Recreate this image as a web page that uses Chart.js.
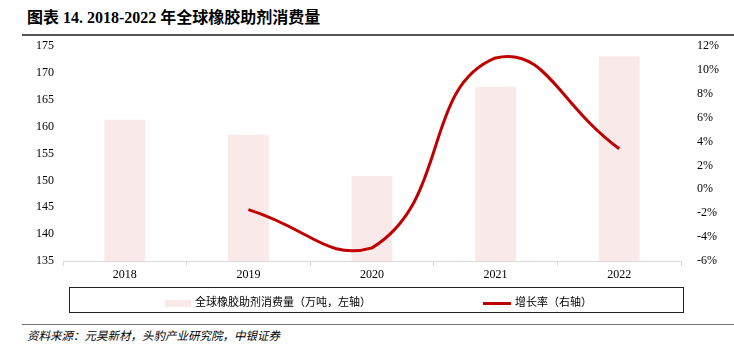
<!DOCTYPE html>
<html>
<head>
<meta charset="utf-8">
<script src="https://cdn.jsdelivr.net/npm/chart.js@4"></script>
<style>
body { margin: 0; width: 734px; height: 354px; background: #fff; position: relative; overflow: hidden; }
#title { position: absolute; left: 27px; top: 4px; font: bold 16px "Liberation Serif", "Noto Sans CJK SC", serif; color: #000; white-space: nowrap; }
#titleLine { position: absolute; left: 22px; right: 0; top: 34px; height: 0; border-top: 2px solid #555; }
#wrap { position: absolute; left: 0; top: 0; width: 734px; height: 290px; }
#legend { position: absolute; left: 69px; top: 287px; width: 613px; height: 24px; border: 1px solid #222; font: 11px "Noto Sans CJK SC", serif; color: #000; }
.item { position: absolute; top: 5px; white-space: nowrap; }
.sw { display: inline-block; vertical-align: middle; margin-right: 4px; }
#footLine { position: absolute; left: 22px; right: 0; top: 324px; border-top: 1px solid #777; }
#foot { position: absolute; left: 27px; top: 327px; font: italic 11.5px "Noto Sans CJK SC", serif; color: #000; }
</style>
</head>
<body>
<div id="title">图表 14. 2018-2022 年全球橡胶助剂消费量</div>
<div id="titleLine"></div>
<div id="wrap"><canvas id="chart"></canvas></div>
<div id="legend">
  <div class="item" style="left:95px"><span class="sw" style="width:26px;height:7px;background:#F9E9E9"></span>全球橡胶助剂消费量（万吨，左轴）</div>
  <div class="item" style="left:413px"><span class="sw" style="width:28px;height:3px;background:#C00000"></span>增长率（右轴）</div>
</div>
<div id="footLine"></div>
<div id="foot">资料来源：元昊新材，头豹产业研究院，中银证券</div>
<script>
const years = ['2018', '2019', '2020', '2021', '2022'];
const consumption = [161.3, 158.5, 150.8, 167.4, 173.1];
const growth = [null, -1.7, -4.9, 11.0, 3.4];

const tickFont = { family: '"Liberation Serif", serif', size: 12 };

new Chart(document.getElementById('chart'), {
    data: {
        labels: years,
        datasets: [{
            type: 'line',
            label: '增长率（右轴）',
            data: growth,
            yAxisID: 'y1',
            borderColor: '#C00000',
            borderWidth: 3,
            pointRadius: 0,
            tension: 0.5,
            spanGaps: false
        }, {
            type: 'bar',
            label: '全球橡胶助剂消费量（万吨，左轴）',
            data: consumption,
            yAxisID: 'y',
            backgroundColor: '#F9E9E9',
            categoryPercentage: 0.33,
            barPercentage: 1
        }]
    },
    options: {
        responsive: true,
        maintainAspectRatio: false,
        animation: false,
        layout: { padding: { top: 46, left: 0, right: 0, bottom: 0 } },
        plugins: { legend: { display: false }, tooltip: { enabled: false } },
        scales: {
            x: {
                offset: true,
                grid: { offset: true, drawOnChartArea: false, color: '#d9d9d9', tickLength: 5 },
                border: { color: '#d9d9d9' },
                ticks: { color: '#000', font: tickFont, padding: 2 },
                afterFit: s => { s.height = 29; }
            },
            y: {
                position: 'left',
                min: 135, max: 175,
                ticks: { stepSize: 5, color: '#000', font: tickFont, padding: 1 },
                grid: { display: false },
                border: { display: false },
                afterFit: s => { s.width = 63; }
            },
            y1: {
                position: 'right',
                min: -6, max: 12,
                ticks: { stepSize: 2, color: '#000', font: tickFont, padding: 8, callback: v => v + '%' },
                grid: { display: false },
                border: { display: false },
                afterFit: s => { s.width = 53; }
            }
        }
    }
});
</script>
</body>
</html>
